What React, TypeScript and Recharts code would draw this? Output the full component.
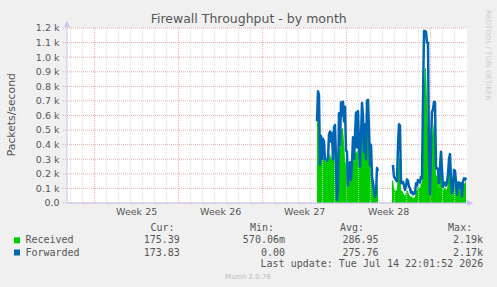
import React from 'react';
import { ComposedChart, Area, Line, XAxis, YAxis, CartesianGrid, ReferenceLine } from 'recharts';

// time axis in hours from the left edge of the graph (800 h window, 2 h samples)
const sampleStartHour = 500;
const sampleStepHours = 2;

const received: (number | null)[] = [
  540, 740, 700, 260, 300, 290, 310, 320, 300, 280,
  290, 300, 310, 350, 300, 330, 300, 320, 480, 280,
  20, 60, 360, 380, 500, 514, 510, 420, 300, 260,
  250, 100, 180, 260, 160, 250, 300, 280, 340, 360,
  340, 380, 330, 250, 300, 460, 470, 350, 460, 300,
  720, 690, 450, 250, 300, 170, 120, 70, 30, 60,
  130, 120,
  null, null, null, null, null, null, null, null, null, null, null, null, null,
  150, 160, 100, 90, 80, 100, 200, 320, 300, 80,
  90, 70, 60, 50, 70, 90, 80, 60, 50, 40,
  50, 30, 40, 40, 90, 80, 120, 110, 100, 140,
  130, 500, 800, 930, 920, 700, 500, 200, 40, 300,
  450, 500, 560, 500, 180, 200, 180, 100, 200, 280,
  180, 90, 100, 110, 90, 100, 150, 240, 270, 120,
  50, 70, 190, 180, 110, 40, 110, 110, 80, 110,
  40, 120, 140, 130, 175,
];

const forwarded: (number | null)[] = [
  560, 766, 740, 263, 460, 300, 440, 420, 300, 300,
  290, 310, 470, 490, 420, 480, 300, 520, 535, 300,
  20, 100, 615, 400, 690, 600, 695, 560, 660, 360,
  350, 120, 230, 280, 160, 270, 450, 300, 460, 620,
  380, 630, 400, 250, 450, 686, 600, 350, 540, 300,
  700, 708, 500, 260, 400, 180, 140, 90, 40, 70,
  240, 220,
  null, null, null, null, null, null, null, null, null, null, null, null, null,
  250, 254, 180, 170, 158, 150, 400, 540, 530, 135,
  140, 146, 120, 90, 120, 162, 150, 112, 100, 70,
  78, 60, 71, 65, 135, 120, 158, 150, 140, 180,
  170, 700, 1180, 1180, 1175, 1100, 1100, 300, 60, 400,
  626, 640, 695, 690, 238, 240, 230, 135, 250, 352,
  226, 112, 135, 140, 120, 135, 200, 300, 336, 158,
  66, 100, 226, 220, 146, 55, 140, 140, 100, 135,
  44, 150, 169, 160, 174,
];

const yTicks = [0, 100, 200, 300, 400, 500, 600, 700, 800, 900, 1000, 1100, 1200];
const yTickLabels = ['0.0', '0.1 k', '0.2 k', '0.3 k', '0.4 k', '0.5 k', '0.6 k', '0.7 k', '0.8 k', '0.9 k', '1.0 k', '1.1 k', '1.2 k'];

const weekLabels = ['Week 25', 'Week 26', 'Week 27', 'Week 28'];
const weekLabelHours = [139.33, 307.33, 475.33, 643.33];
const weekBoundaryHours = [55.33, 223.33, 391.33, 559.33, 727.33];
const firstDayLineHour = 7.33;
const dayCount = 33;

const seriesNames = ['Received', 'Forwarded'];
const seriesColors = ['#00CC00', '#0066B3'];
const curValues = ['175.39', '173.83'];
const minValues = ['570.06m', '0.00 '];
const avgValues = ['286.95', '275.76'];
const maxValues = ['2.19k', '2.17k'];
const lastUpdate = 'Last update: Tue Jul 14 22:01:52 2026';

const data = received.map((r, i) => ({
  h: sampleStartHour + i * sampleStepHours,
  received: r,
  forwarded: forwarded[i],
}));

const dayLineHours = Array.from({ length: dayCount }, (_, k) => firstDayLineHour + 24 * k).filter(
  (h) => !weekBoundaryHours.some((w) => Math.abs(w - h) < 0.5)
);

const FONT = '"DejaVu Sans", Verdana, sans-serif';
const MONO = '"DejaVu Sans Mono", monospace';
const TEXT = '#555555';
const AXIS = '#C4C4F0';
const MAJOR = '#EBAAAA';
const MINOR = '#D6D6D6';

const YTick = (props: any) => {
  const idx = yTicks.indexOf(props.payload.value);
  return (
    <text x={props.x + 0.5} y={props.y + 3.4} textAnchor="end" fontSize={9.5} fontFamily={FONT} fill={TEXT}>
      {yTickLabels[idx]}
    </text>
  );
};

const XTick = (props: any) => {
  const idx = weekLabelHours.indexOf(props.payload.value);
  return (
    <text x={props.x} y={props.y + 12} textAnchor="middle" fontSize={9.5} fontFamily={FONT} fill={TEXT}>
      {weekLabels[idx]}
    </text>
  );
};

export default function App() {
  return (
    <div style={{ position: 'absolute', left: 0, top: 0, width: 497, height: 287, background: '#F0F0F0', overflow: 'hidden' }}>
      <div style={{ position: 'absolute', left: 0, top: 0 }}>
        <ComposedChart width={497} height={287} data={data} margin={{ top: 28, right: 30, bottom: 54, left: 7 }}>
          <CartesianGrid fill="#FFFFFF" vertical={false} stroke={MAJOR} strokeDasharray="1 1" />
          {dayLineHours.map((h) => (
            <ReferenceLine key={'d' + h} x={h} stroke={MINOR} strokeDasharray="1 1" />
          ))}
          {weekBoundaryHours.map((h) => (
            <ReferenceLine key={'w' + h} x={h} stroke={MAJOR} strokeDasharray="1 1" />
          ))}
          <XAxis
            dataKey="h"
            type="number"
            domain={[0, 800]}
            ticks={weekLabelHours}
            interval={0}
            tick={<XTick />}
            tickLine={false}
            tickSize={0}
            tickMargin={0}
            height={30}
            axisLine={{ stroke: AXIS }}
            allowDataOverflow
          />
          <YAxis
            type="number"
            domain={[0, 1200]}
            ticks={yTicks}
            interval={0}
            width={60}
            tick={<YTick />}
            tickSize={4}
            tickMargin={4}
            tickLine={{ stroke: MAJOR, strokeDasharray: '1 1' }}
            axisLine={{ stroke: AXIS }}
            allowDataOverflow
          />
          <Area
            dataKey="received"
            type="linear"
            stroke="none"
            fill="#00CC00"
            fillOpacity={1}
            isAnimationActive={false}
            connectNulls={false}
            activeDot={false}
          />
          <Line
            dataKey="forwarded"
            type="linear"
            stroke="#0066B3"
            strokeWidth={2.5}
            strokeLinejoin="round"
            dot={false}
            activeDot={false}
            isAnimationActive={false}
            connectNulls={false}
          />
        </ComposedChart>
      </div>
      <svg width={497} height={287} style={{ position: 'absolute', left: 0, top: 0, pointerEvents: 'none' }}>
        <text x={248.7} y={23} textAnchor="middle" fontSize={12.5} fontFamily={FONT} fill={TEXT}>
          Firewall Throughput - by month
        </text>
        <text transform="translate(14.5,114.7) rotate(-90)" textAnchor="middle" fontSize={10.8} fontFamily={FONT} fill={TEXT}>
          Packets/second
        </text>
        <text transform="translate(485.5,10) rotate(90)" fontSize={7} fontFamily={FONT} fill="#CCCCCC">
          RRDTOOL / TOBI OETIKER
        </text>
        <polygon points="67,20.5 64.3,27 69.7,27" fill={AXIS} />
        <polygon points="473.5,203 467,200.3 467,205.7" fill={AXIS} />
        <g fontFamily={MONO} fontSize={10} fill={TEXT} style={{ whiteSpace: 'pre' }}>
          <text x={174.5} y={231} textAnchor="end">Cur:</text>
          <text x={274} y={231} textAnchor="end">Min:</text>
          <text x={364} y={231} textAnchor="end">Avg:</text>
          <text x={472.2} y={231} textAnchor="end">Max:</text>
          {seriesNames.map((name, i) => {
            const by = 243.3 + i * 12.2;
            return (
              <g key={name}>
                <rect x={14} y={by - 6} width={6} height={6} fill={seriesColors[i]} />
                <text x={25.4} y={by}>{name}</text>
                <text x={179.8} y={by} textAnchor="end">{curValues[i]}</text>
                <text x={285} y={by} textAnchor="end">{minValues[i]}</text>
                <text x={378.5} y={by} textAnchor="end">{avgValues[i]}</text>
                <text x={483.1} y={by} textAnchor="end">{maxValues[i]}</text>
              </g>
            );
          })}
          <text x={483.3} y={267.3} textAnchor="end">{lastUpdate}</text>
        </g>
        <text x={248} y={279} textAnchor="middle" fontSize={7} fontFamily={FONT} fill="#BBBBBB">
          Munin 2.0.76
        </text>
      </svg>
    </div>
  );
}
